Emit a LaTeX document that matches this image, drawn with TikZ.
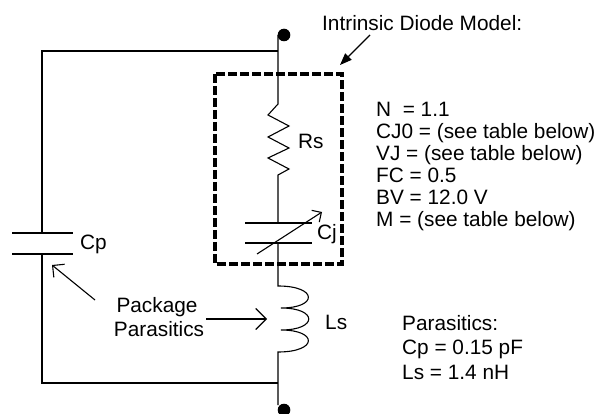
\documentclass[tikz,border=0pt]{standalone}
\usepackage{fontspec}
\setmainfont{Liberation Sans}
\usetikzlibrary{arrows.meta}

\tikzset{
	wire/.style={line width=1.1pt},
	barb/.style={wire,-{Straight Barb[length=#1,width=2*#1,line width=1.1pt]}},
	lbl/.style={font=\fontsize{20.8}{22}\selectfont,inner sep=0pt,anchor=base west},
	boxline/.style={line width=4pt,dash pattern=on 9pt off 3pt}
}

\begin{document}
\begin{tikzpicture}[x=1pt,y=-1pt]
	\useasboundingbox (0,0) rectangle (605,414);
	
	% terminals
	\coordinate (top) at (278,35);
	\coordinate (bot) at (278,405);
	\fill (284,35) circle (6.3pt);
	\fill (284,410) circle (6.3pt);
	
	% Rs and Cj
	\draw[wire] (top) -- (278,104) -- (268,115) -- (289,126) -- (268,137) -- (289,148) -- (268,158) -- (289,169) -- (278,175) -- (278,223);
	\draw[wire] (245,223) -- (312,223);
	\draw[wire] (245,243) -- (312,243);
	\draw[barb=7pt] (257,254) -- (322,212);
	
	% Ls
	\draw[wire] (278,243) -- (278,286) .. controls (318,286) and (318,308) .. (281,308) .. controls (318,308) and (318,330) .. (281,330) .. controls (318,330) and (318,352) .. (278,352) -- (bot);
	
	% Cp loop
	\draw[wire] (278,51) -- (42,51) -- (42,233);
	\draw[wire] (12,233) -- (73,233);
	\draw[wire] (12,254) -- (73,254);
	\draw[wire] (42,254) -- (42,383) -- (278,383);
	
	% intrinsic model box
	\draw[boxline] (215,74) rectangle (342,264);
	
	% labels
	\node[lbl] (rs) at (298,149) {Rs};
	\node[lbl] (cj) at (317,240) {Cj};
	\node[lbl] (cp) at (80,250) {Cp};
	\node[lbl] (ls) at (325,329) {Ls};
	
	\node[lbl] (model) at (322,31) {Intrinsic Diode Model:};
	\coordinate (boxtip) at (340,65);
	\draw[wire,-{Triangle[length=12pt,width=9pt]}] (370,35) -- (boxtip);
	
	\node[lbl,anchor=base] (pkgA) at (157,312) {Package};
	\node[lbl,anchor=base] (pkgB) at (159,336) {Parasitics};
	\coordinate (lsin) at (267,319);
	\coordinate (cpfrom) at (95,300);
	\coordinate (cpin) at (52,265);
	\draw[barb=10.5pt] ([xshift=2pt]pkgB.east |- lsin) -- (lsin);
	\draw[barb=8.5pt] (cpfrom) -- (cpin);
	
	% model parameters
	\node[lbl] (parN) at (376,117) {N~ = 1.1};
	\node[lbl] (parCJ) at (376,138.8) {CJ0 = (see table below)};
	\node[lbl] (parVJ) at (376,160.6) {VJ = (see table below)};
	\node[lbl] (parFC) at (376,182.4) {FC = 0.5};
	\node[lbl] (parBV) at (376,204.2) {BV = 12.0 V};
	\node[lbl] (parM) at (376,226) {M = (see table below)};
	
	% parasitics
	\node[lbl] (parP) at (402,330) {Parasitics:};
	\node[lbl] (parCp) at (402,354.5) {Cp = 0.15 pF};
	\node[lbl] (parLs) at (402,379) {Ls = 1.4 nH};
\end{tikzpicture}
\end{document}
